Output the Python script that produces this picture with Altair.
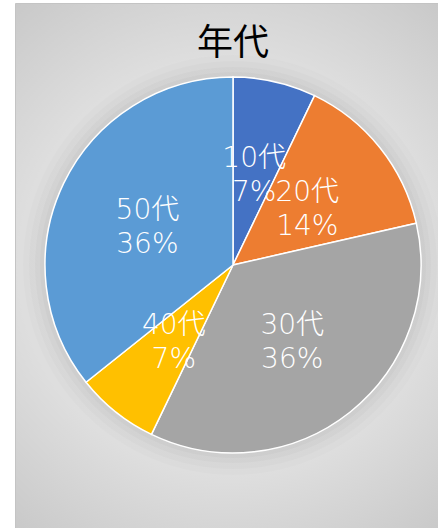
import altair as alt
import pandas as pd

categories = ["10代", "20代", "30代", "40代", "50代"]
counts = [2, 4, 10, 2, 10]
percent_labels = ["7%", "14%", "36%", "7%", "36%"]
colors = ["#4472C4", "#ED7D31", "#A5A5A5", "#FFC000", "#5B9BD5"]
title_text = ["年代"]

df = pd.DataFrame({"cat": categories, "n": counts, "pct": percent_labels,
                   "order": list(range(len(categories)))})
df["label"] = df["cat"] + "\n" + df["pct"]

W, H = 438, 528
CX, CY, R = 233, 265, 188
one = pd.DataFrame({"k": [0]})

bg = alt.Chart(one).mark_rect(
    fill={"gradient": "radial", "x1": 0.5, "y1": 0.5, "r1": 0,
          "x2": 0.5, "y2": 0.5, "r2": 0.72,
          "stops": [{"offset": 0, "color": "#e6e6e6"},
                    {"offset": 0.55, "color": "#dedede"},
                    {"offset": 1, "color": "#c2c2c2"}]},
    stroke="#c4c4c4", strokeWidth=1,
).encode(x=alt.value(15.5), x2=alt.value(W + 2), y=alt.value(3.5), y2=alt.value(H + 2))

shadows = []
for dr, op in [(22, 0.012), (16, 0.015), (10, 0.018), (5, 0.02)]:
    shadows.append(alt.Chart(one).mark_arc(
        theta=0, theta2=6.2832, radius=R + dr, fill="#000000", opacity=op
    ).encode(x=alt.value(CX), y=alt.value(CY)))

base = alt.Chart(df).encode(
    theta=alt.Theta("n:Q", stack=True),
    order=alt.Order("order:Q"),
)
pie = base.mark_arc(radius=R, stroke="white", strokeWidth=1.5).encode(
    color=alt.Color("cat:N", scale=alt.Scale(domain=categories, range=colors), legend=None),
    x=alt.value(CX), y=alt.value(CY),
)
labels = base.mark_text(
    radius=95, dy=-13, lineBreak="\n", fontSize=28, font="DejaVu Sans, Noto Sans CJK JP",
    fontWeight=300, color="white", lineHeight=34, baseline="middle", align="center",
).encode(text="label:N", x=alt.value(CX), y=alt.value(CY))

title = alt.Chart(pd.DataFrame({"t": title_text})).mark_text(
    fontSize=36, font="Noto Sans CJK JP", color="black", baseline="middle", align="center"
).encode(text="t:N", x=alt.value(CX), y=alt.value(44))

chart = alt.layer(bg, *shadows, pie, labels, title).properties(
    width=W, height=H, padding=0, background="white",
    autosize=alt.AutoSizeParams(type="none"),
).configure_view(stroke=None)

chart.save("out.html", embed_options={"renderer": "svg", "actions": False})
